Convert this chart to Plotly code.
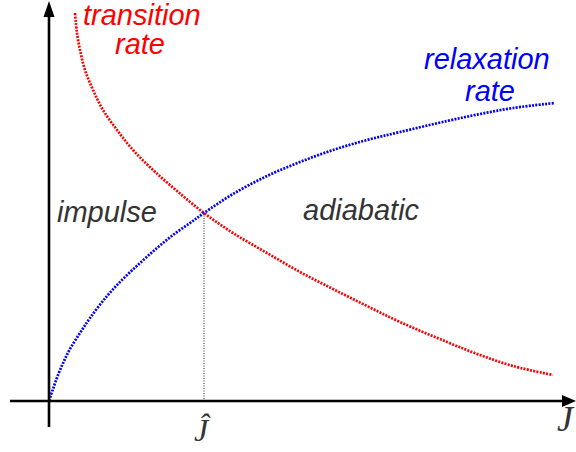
import plotly.graph_objects as go

# Curve samples (x to the right, y downward in pixel-like units)
relax_x = [49, 53, 58, 64, 70, 80, 90, 107, 123, 140, 157, 173, 190, 204, 233, 267, 300, 333, 367, 400, 447, 480, 513, 555]
relax_y = [401, 389, 375, 361, 349, 333, 318, 296, 279, 263, 248, 235, 223, 213, 194, 176, 162, 150, 140, 132, 121, 114, 108, 103]

trans_x = [75, 77, 80, 85, 93, 103, 117, 133, 153, 177, 204, 233, 267, 300, 333, 367, 400, 447, 480, 513, 553]
trans_y = [13, 33, 50, 70, 90, 110, 130, 150, 170, 191, 213, 233, 253, 272, 289, 306, 322, 342, 355, 366, 375]

j_hat_x = 204
cross_y = 213

# Axis frame
origin_x = 49
origin_y = 401

fig = go.Figure()

fig.add_trace(go.Scatter(x=trans_x, y=trans_y, mode="lines",
                         line=dict(color="#ff0000", width=2.7, dash="2px,1.3px", shape="spline", smoothing=1.0),
                         hoverinfo="skip", showlegend=False))
fig.add_trace(go.Scatter(x=relax_x, y=relax_y, mode="lines",
                         line=dict(color="#0000ff", width=2.7, dash="2px,1.3px", shape="spline", smoothing=1.0),
                         hoverinfo="skip", showlegend=False))
fig.add_trace(go.Scatter(x=[j_hat_x, j_hat_x], y=[cross_y, origin_y], mode="lines",
                         line=dict(color="#444444", width=1.2, dash="1px,1.5px"),
                         hoverinfo="skip", showlegend=False))

shapes = [
    dict(type="line", x0=10, x1=566, y0=origin_y, y1=origin_y, line=dict(color="black", width=2.6), layer="above"),
    dict(type="line", x0=origin_x, x1=origin_x, y0=427, y1=15, line=dict(color="black", width=2.6), layer="above"),
    dict(type="path", path="M 562 395 L 576 401 L 562 407 Z", fillcolor="black", line=dict(width=0), layer="above"),
    dict(type="path", path="M 43.5 17 L 49 1 L 54.5 17 Z", fillcolor="black", line=dict(width=0), layer="above"),
]

sans = "Liberation Sans, Arial, sans-serif"
serif = "Liberation Serif, DejaVu Serif, serif"

def ann(text, x, y, color, size=29, family=sans):
    return dict(text=text, x=x, y=y, xref="x", yref="y", showarrow=False,
                xanchor="center", yanchor="middle",
                font=dict(family=family, size=size, color=color, style="italic"))

annotations = [
    ann("transition", 142, 15, "#ff0000"),
    ann("rate", 140, 44, "#ff0000"),
    ann("relaxation", 487, 59, "#0000ff"),
    ann("rate", 490, 91, "#0000ff"),
    ann("impulse", 107, 212, "#333333"),
    ann("adiabatic", 361, 210, "#333333"),
    ann("Ĵ", 202, 430, "#333333", size=32, family=serif),
    ann("J", 566, 419, "#333333", size=36, family=serif),
]

fig.update_layout(
    width=576, height=452,
    margin=dict(l=0, r=0, t=0, b=0),
    paper_bgcolor="white", plot_bgcolor="white",
    xaxis=dict(range=[0, 576], visible=False, fixedrange=True),
    yaxis=dict(range=[452, 0], visible=False, fixedrange=True),
    shapes=shapes,
    annotations=annotations,
)

fig.write_html("out.html", config={"displayModeBar": False},
               post_script="document.body.style.margin='0';document.body.style.overflow='hidden';")
